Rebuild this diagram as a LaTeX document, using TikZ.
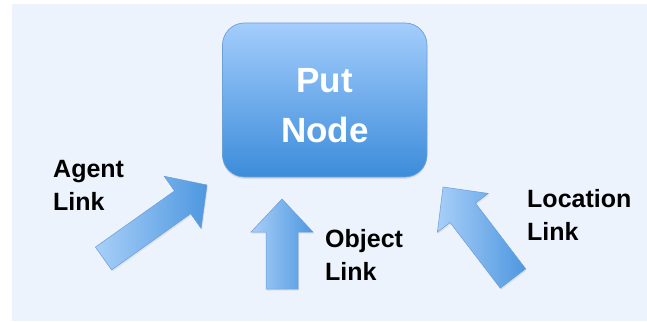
\documentclass[tikz,border=0pt]{standalone}
\usepackage{fontspec}
\setmainfont{Liberation Sans}
\usetikzlibrary{shadows}
\definecolor{bgblue}{HTML}{EDF3FC}
\definecolor{boxtop}{HTML}{A3CDFC}
\definecolor{boxbot}{HTML}{3C8CDA}
\definecolor{boxedge}{HTML}{6E9FD6}
\definecolor{arrlight}{HTML}{A8CFF8}
\definecolor{arrdark}{HTML}{4E97E0}
\definecolor{arredge}{HTML}{6A9ED8}
\tikzset{
  putbox/.style={rectangle, rounded corners=22pt, inner sep=0pt,
    minimum width=204.5pt, minimum height=154pt,
    top color=boxtop, bottom color=boxbot, draw=boxedge, line width=0.7pt,
    drop shadow={opacity=0.18, shadow xshift=0pt, shadow yshift=-2pt},
    text=white, align=center, font={\fontsize{35}{50}\selectfont\bfseries}},
  blockarrow/.style={left color=arrlight, right color=arrdark, draw=arredge,
    line width=0.5pt, line join=miter,
    drop shadow={opacity=0.15, shadow xshift=1pt, shadow yshift=-1.5pt}},
  linklabel/.style={anchor=north west, inner sep=0pt, align=left,
    font={\fontsize{25}{33}\selectfont\bfseries}, text=black}
}
\begin{document}
\begin{tikzpicture}[x=1pt, y=-1pt]
\useasboundingbox (0,0) rectangle (647,321);
\fill[bgblue] (12,4) rectangle (647,321);

\node[putbox] (put) at (324.75,100) {\rule{0pt}{35pt}Put\\Node};

% Agent arrow
\path[blockarrow] (95.4,247.1) -- (174.5,190.9) -- (164.1,176.2) -- (207,185)
  -- (201.1,228.4) -- (190.7,213.7) -- (111.6,269.9) -- cycle;
% Object arrow
\path[blockarrow] (266,289) -- (266,232) -- (251,232) -- (282,199)
  -- (313,232) -- (298,232) -- (298,289) -- cycle;
% Location arrow
\path[blockarrow] (500.3,288.2) -- (450.1,222.5) -- (437.4,232.2) -- (443,187)
  -- (488.2,193.4) -- (475.5,203.1) -- (525.7,268.8) -- cycle;

\node[linklabel] (agent) at (53,160.1) {Agent\\Link};
\node[linklabel] (object) at (325,228.8) {Object\\Link};
\node[linklabel] (location) at (527,189.1) {Location\\Link};
\end{tikzpicture}
\end{document}
